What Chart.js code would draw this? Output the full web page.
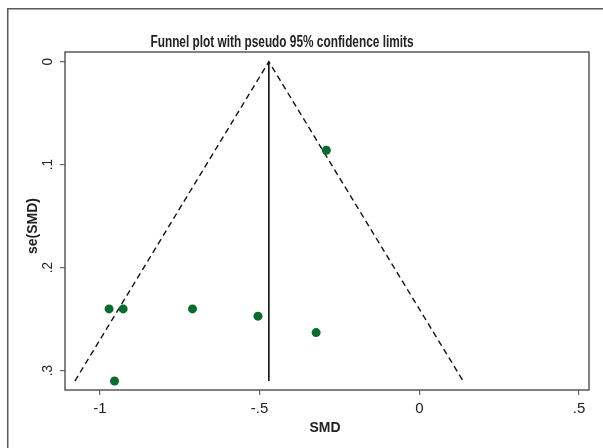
<!DOCTYPE html>
<html>
<head>
<meta charset="utf-8">
<script src="https://cdn.jsdelivr.net/npm/chart.js@4/dist/chart.umd.min.js"></script>
<style>
  html, body { margin: 0; padding: 0; background: #fff; overflow: hidden; }
  #funnel { display: block; }
</style>
</head>
<body>
<canvas id="funnel" width="603" height="448"></canvas>
<script>
// study effects and standard errors
var smd = [-0.291, -0.971, -0.927, -0.710, -0.505, -0.323, -0.954];
var seSmd = [0.086, 0.240, 0.240, 0.240, 0.247, 0.263, 0.310];

// pooled estimate line and pseudo 95% limits
var pooledX = [-0.471, -0.471];
var pooledY = [0, 0.31];
var funnelX = [-1.078, -0.471, 0.137];
var funnelY = [0.31, 0, 0.31];

var xTicks = [-1, -0.5, 0, 0.5];
var xTickLabels = ['-1', '-.5', '0', '.5'];
var yTicks = [0, 0.1, 0.2, 0.3];
var yTickLabels = ['0', '.1', '.2', '.3'];

var sans = "'Liberation Sans', Arial, sans-serif";

function pts(xs, ys) {
    var out = [];
    for (var i = 0; i < xs.length; i++) out.push({x: xs[i], y: ys[i]});
    return out;
}

// squeezed text, the original uses a narrow face
function narrowText(ctx, txt, x, y, rot, sx) {
    ctx.save();
    ctx.translate(x, y);
    if (rot) ctx.rotate(rot);
    ctx.scale(sx, 1);
    ctx.fillText(txt, 0, 0);
    ctx.restore();
}

var extras = {
    id: 'extras',
    beforeDatasetsDraw: function (chart) {
        var ctx = chart.ctx, a = chart.chartArea;
        ctx.save();
        ctx.strokeStyle = '#5a5a5a';
        ctx.lineWidth = 1.5;
        ctx.strokeRect(a.left, a.top, a.right - a.left, a.bottom - a.top);
        // outer graph frame, only its top and left edges are inside the picture
        ctx.beginPath();
        ctx.moveTo(7.75, 460);
        ctx.lineTo(7.75, 8.75);
        ctx.lineTo(620, 8.75);
        ctx.stroke();
        ctx.restore();
    },
    afterDraw: function (chart) {
        var ctx = chart.ctx, ys = chart.scales.y;
        ctx.save();
        ctx.fillStyle = '#222';
        ctx.textAlign = 'center';
        ctx.textBaseline = 'middle';
        ctx.font = 'bold 16px ' + sans;
        narrowText(ctx, 'Funnel plot with pseudo 95% confidence limits', 282, 43, 0, 0.74);
        ctx.font = 'bold 15px ' + sans;
        narrowText(ctx, 'SMD', 325, 428, 0, 0.93);
        narrowText(ctx, 'se(SMD)', 33, 226, -Math.PI / 2, 0.93);
        // rotated y tick labels
        ctx.font = '15px ' + sans;
        for (var i = 0; i < yTicks.length; i++) {
            var py = ys.getPixelForValue(yTicks[i]);
            narrowText(ctx, yTickLabels[i], 48, py, -Math.PI / 2, 0.9);
        }
        ctx.restore();
    }
};

new Chart(document.getElementById('funnel'), {
    type: 'scatter',
    data: {
        datasets: [
            {
                label: 'limits',
                data: pts(funnelX, funnelY),
                showLine: true,
                borderColor: '#111',
                borderWidth: 1.4,
                borderDash: [6, 4],
                pointRadius: 0,
                order: 3
            },
            {
                label: 'pooled',
                data: pts(pooledX, pooledY),
                showLine: true,
                borderColor: '#111',
                borderWidth: 1.6,
                pointRadius: 0,
                order: 2
            },
            {
                label: 'studies',
                data: pts(smd, seSmd),
                pointRadius: 4.5,
                pointBackgroundColor: '#0b6a2e',
                pointBorderColor: '#0b6a2e',
                pointBorderWidth: 0,
                order: 1
            }
        ]
    },
    options: {
        responsive: false,
        animation: false,
        layout: { padding: { left: 0, top: 52, right: 14, bottom: 0 } },
        plugins: { legend: { display: false }, tooltip: { enabled: false } },
        scales: {
            x: {
                type: 'linear',
                min: -1.109,
                max: 0.531,
                afterFit: function (s) { s.height = 58; },
                afterBuildTicks: function (s) {
                    s.ticks = xTicks.map(function (v) { return {value: v}; });
                },
                grid: { drawOnChartArea: false, drawTicks: true, tickLength: 5, color: '#666', lineWidth: 1.2 },
                border: { display: false },
                ticks: {
                    padding: 5,
                    color: '#222',
                    font: { family: sans, size: 15 },
                    maxRotation: 0,
                    callback: function (v) {
                        var i = xTicks.indexOf(v);
                        return i >= 0 ? xTickLabels[i] : '';
                    }
                }
            },
            y: {
                type: 'linear',
                reverse: true,
                min: -0.0094,
                max: 0.3187,
                afterFit: function (s) { s.width = 65; },
                afterBuildTicks: function (s) {
                    s.ticks = yTicks.map(function (v) { return {value: v}; });
                },
                grid: { drawOnChartArea: false, drawTicks: true, tickLength: 5, color: '#666', lineWidth: 1.2 },
                border: { display: false },
                ticks: {
                    color: 'rgba(0,0,0,0)',
                    font: { family: sans, size: 15 },
                    callback: function () { return ''; }
                }
            }
        }
    },
    plugins: [extras]
});
</script>
</body>
</html>
